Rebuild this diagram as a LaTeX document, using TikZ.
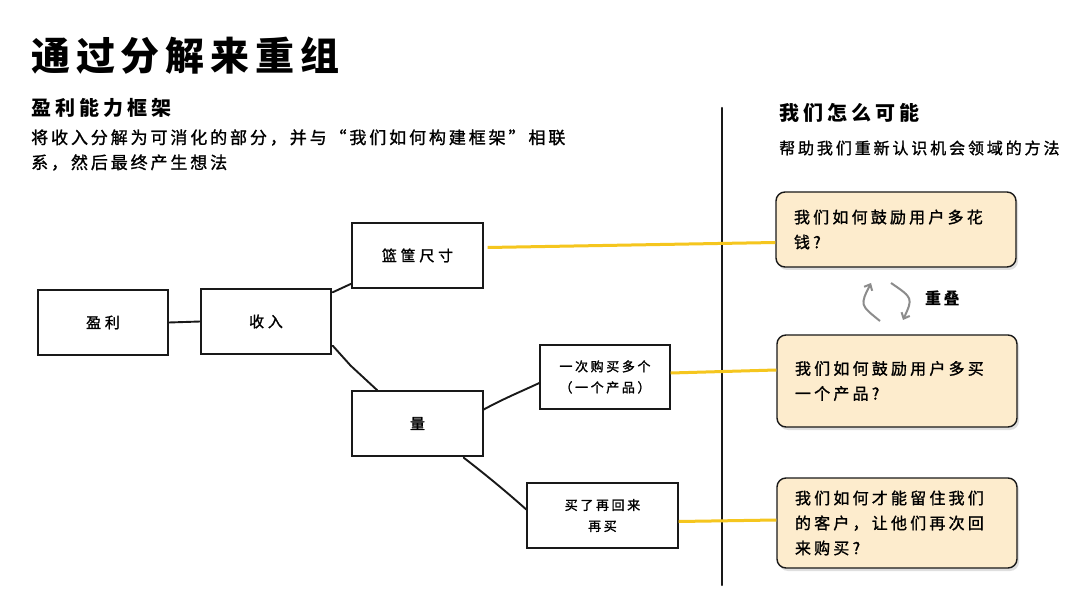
\documentclass[tikz,border=0pt]{standalone}
\usepackage{fontspec}
\setmainfont{Noto Sans CJK SC}
\newfontfamily\heavy[FakeBold=1.3]{Noto Sans CJK SC}
\usetikzlibrary{shadows,calc,arrows.meta}
\definecolor{ylw}{RGB}{245,198,30}
\definecolor{beige}{RGB}{253,236,205}
\definecolor{ink}{RGB}{25,25,25}
\definecolor{arr}{RGB}{140,140,140}
\begin{document}
\begin{tikzpicture}[x=1pt,y=-1pt,
  lbox/.style={draw=ink, line width=1.4pt, fill=white, inner sep=0pt, align=center,
    font=\fontsize{15}{19}\selectfont\heavy\addfontfeature{LetterSpace=25}},
  sbox/.style={lbox, font=\fontsize{13}{21}\selectfont\heavy\addfontfeature{LetterSpace=20}},
  qbox/.style={draw=ink, line width=1.4pt, fill=beige, rounded corners=9pt, inner xsep=18pt, inner ysep=0pt,
    text width=204pt, align=left, minimum width=240pt,
    font=\fontsize{16}{25}\selectfont\heavy\addfontfeature{LetterSpace=20},
    drop shadow={opacity=0.25, shadow xshift=2pt, shadow yshift=-3pt}},
  conn/.style={ink, line width=1.9pt, line cap=round, line join=round},
  yl/.style={ylw, line width=3pt},
  ovl/.style={arr, line width=2pt, -{Straight Barb[length=5pt,width=9pt]}}
]
\useasboundingbox (0,0) rectangle (1080,604);
\fill[white] (0,0) rectangle (1080,604);

% headings
\node[anchor=west, inner sep=0pt, font=\fontsize{39}{44}\selectfont\bfseries\addfontfeature{LetterSpace=15}] (title) at (31,56) {通过分解来重组};
\node[anchor=west, inner sep=0pt, font=\fontsize{20}{24}\selectfont\bfseries\addfontfeature{LetterSpace=20}] (h1) at (31,108) {盈利能力框架};
\node[anchor=west, inner sep=0pt, align=left, font=\fontsize{17}{25}\selectfont\heavy\addfontfeature{LetterSpace=17}] (desc) at (31,150) {将收入分解为可消化的部分，并与“我们如何构建框架”相联\\系，然后最终产生想法};
\node[anchor=west, inner sep=0pt, font=\fontsize{20}{24}\selectfont\bfseries\addfontfeature{LetterSpace=20}] (h2) at (779,113) {我们怎么可能};
\node[anchor=west, inner sep=0pt, font=\fontsize{16}{20}\selectfont\heavy\addfontfeature{LetterSpace=18}] (sub2) at (779,148) {帮助我们重新认识机会领域的方法};

% divider
\coordinate (dtop) at (722,108);
\coordinate (dbot) at (722,585);
\draw[ink, line width=2.4pt, line cap=round] (dtop) -- (dbot);

% left tree
\node[lbox, minimum width=130pt, minimum height=65pt] (yingli) at (103,322.5) {盈利};
\node[lbox, minimum width=130pt, minimum height=65pt] (shouru) at (266,321.5) {收入};
\node[lbox, minimum width=131pt, minimum height=65pt] (lankuang) at (417.5,255.5) {篮筐尺寸};
\node[lbox, minimum width=131pt, minimum height=65pt] (liang) at (417.5,423.5) {量};
\node[sbox, minimum width=130pt, minimum height=64pt] (yici) at (605,377) {一次购买多个\\（一个产品）};
\node[sbox, minimum width=151pt, minimum height=65pt] (maile) at (602.5,515.5) {买了再回来\\再买};

\draw[conn] (yingli.east) -- (shouru.west);
\draw[conn] ($(shouru.north east)+(1,4)$) -- ($(lankuang.south west)+(0,-5)$);
\draw[conn] ($(shouru.south east)+(1,-9)$) -- ++(18,20) -- ($(liang.north west)+(26,0)$);
\draw[conn] ($(liang.east)+(0,-14)$) .. controls (505,398) and (520,392) .. ($(yici.west)+(0,6)$);
\draw[conn] ($(liang.south east)+(-20,1)$) .. controls (490,478) and (510,495) .. ($(maile.west)+(0,-6)$);

% question boxes
\node[qbox, minimum height=75pt] (q1) at (896,229.5) {我们如何鼓励用户多花\\钱?};
\node[qbox, minimum height=92pt] (q2) at (897,381) {我们如何鼓励用户多买\\一个产品?};
\node[qbox, minimum height=90pt] (q3) at (897,523) {我们如何才能留住我们\\的客户，让他们再次回\\来购买?};

% yellow links
\draw[yl] ($(lankuang.east)+(4,-8)$) -- ($(q1.west)+(0,13)$);
\draw[yl] ($(yici.east)+(0,-4)$) -- ($(q2.west)+(0,-11)$);
\draw[yl] ($(maile.east)+(0,6)$) -- ($(q3.west)+(0,-3)$);

% overlap arrows
\coordinate (a1s) at (880,321);
\coordinate (a1e) at (871,283);
\coordinate (a2s) at (891,283);
\coordinate (a2e) at (903,320);
\draw[ovl] (a1s) .. controls (860,305) .. (a1e);
\draw[ovl] (a2s) .. controls (913,298) .. (a2e);
\node[anchor=west, inner sep=0pt, font=\fontsize{16}{20}\selectfont\bfseries\addfontfeature{LetterSpace=15}] (overlap) at (925,298) {重叠};
\end{tikzpicture}
\end{document}
